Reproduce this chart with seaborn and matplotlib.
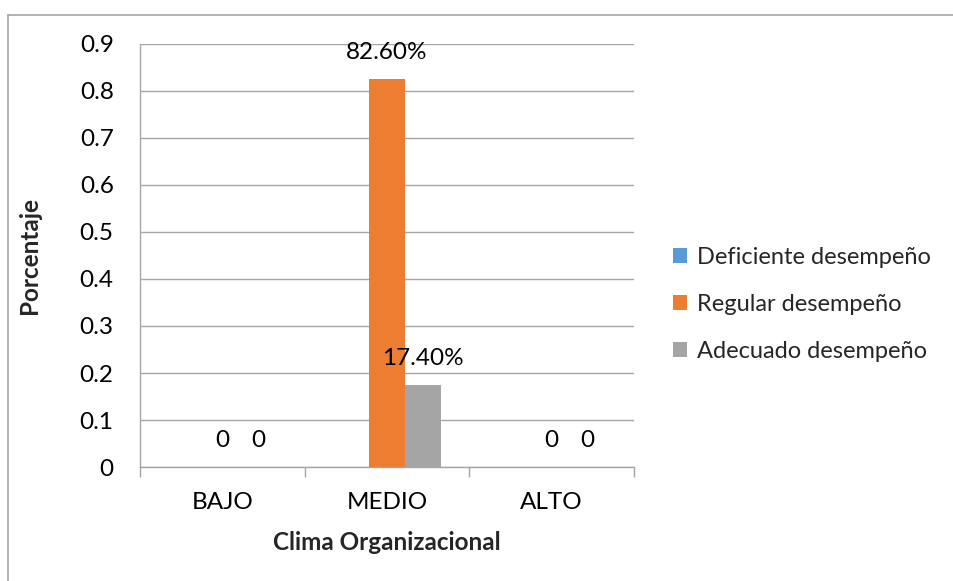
import numpy as np
import pandas as pd
import matplotlib
matplotlib.use("Agg")
import matplotlib.pyplot as plt
from matplotlib.lines import Line2D
import seaborn as sns

categories = ["BAJO", "MEDIO", "ALTO"]
series = ["Deficiente desempeño", "Regular desempeño", "Adecuado desempeño"]
deficiente = [np.nan, np.nan, np.nan]
regular = [0.0, 0.826, 0.0]
adecuado = [0.0, 0.174, 0.0]
colors = ["#5B9BD5", "#ED7D31", "#A5A5A5"]
y_ticks = [0, 0.1, 0.2, 0.3, 0.4, 0.5, 0.6, 0.7, 0.8, 0.9]
y_tick_labels = ["0", "0.1", "0.2", "0.3", "0.4", "0.5", "0.6", "0.7", "0.8", "0.9"]

rows = []
for name, vals in zip(series, [deficiente, regular, adecuado]):
    for cat, v in zip(categories, vals):
        rows.append({"Clima": cat, "Serie": name, "Valor": v})
df = pd.DataFrame(rows)

sns.set_theme(style="white")
plt.rcParams["font.family"] = ["Lato", "DejaVu Sans"]

FS = 17.5

fig = plt.figure(figsize=(9.54, 5.81), dpi=100)
ax = fig.add_axes([0.1468, 0.1962, 0.5178, 0.7281])

sns.barplot(data=df.dropna(), x="Clima", y="Valor", hue="Serie",
            order=categories, hue_order=series, palette=colors,
            width=0.656, gap=0, saturation=1, errorbar=None, ax=ax,
            legend=True, linewidth=0, edgecolor="none")

ax.set_ylim(0, 0.9)
ax.set_xlim(-0.5, 2.5)
ax.set_yticks(y_ticks)
ax.set_yticklabels(y_tick_labels, fontsize=FS, color="black")
ax.tick_params(axis="y", length=7, color="#A6A6A6", width=1, pad=12)
ax.set_xticks(range(len(categories)))
ax.set_xticklabels(categories, fontsize=FS, color="black")
ax.tick_params(axis="x", which="major", length=0, pad=18)
ax.set_xticks([-0.5, 0.5, 1.5, 2.5], minor=True)
ax.tick_params(axis="x", which="minor", length=7, color="#A6A6A6", width=1, bottom=True)

ax.grid(axis="y", color="#A6A6A6", linewidth=1)
ax.set_axisbelow(True)
for side in ["top", "right"]:
    ax.spines[side].set_visible(False)
for side in ["left", "bottom"]:
    ax.spines[side].set_color("#A6A6A6")
    ax.spines[side].set_linewidth(1)

ax.set_xlabel("Clima Organizacional", fontsize=FS, fontweight="bold", labelpad=13)
ax.set_ylabel("Porcentaje", fontsize=FS, fontweight="bold", labelpad=28)

# value labels above each drawn bar
for name, container in zip(series, ax.containers):
    vals = df[df["Serie"] == name].dropna()["Valor"].tolist()
    for bar, v in zip(container, vals):
        if np.isnan(bar.get_height()):
            continue
        txt = "0" if v == 0 else f"{v*100:.2f}%"
        ax.annotate(txt, (bar.get_x() + bar.get_width() / 2, v),
                    xytext=(0, 19), textcoords="offset points",
                    ha="center", va="center", fontsize=FS, color="black")

handles, labels = ax.get_legend_handles_labels()
leg = ax.legend(handles, labels, loc="center left", bbox_to_anchor=(1.035, 0.385),
                frameon=False, fontsize=17, handlelength=0.6, handleheight=0.6,
                handletextpad=0.45, labelspacing=1.1)

# outer chart border (left and top edges)
fig.add_artist(Line2D([0.0084, 0.0084], [0.0, 0.975], transform=fig.transFigure,
                      color="#A6A6A6", linewidth=1.2))
fig.add_artist(Line2D([0.0084, 1.0], [0.975, 0.975], transform=fig.transFigure,
                      color="#A6A6A6", linewidth=1.2))

fig.savefig("out.png", dpi=100, facecolor="white")
